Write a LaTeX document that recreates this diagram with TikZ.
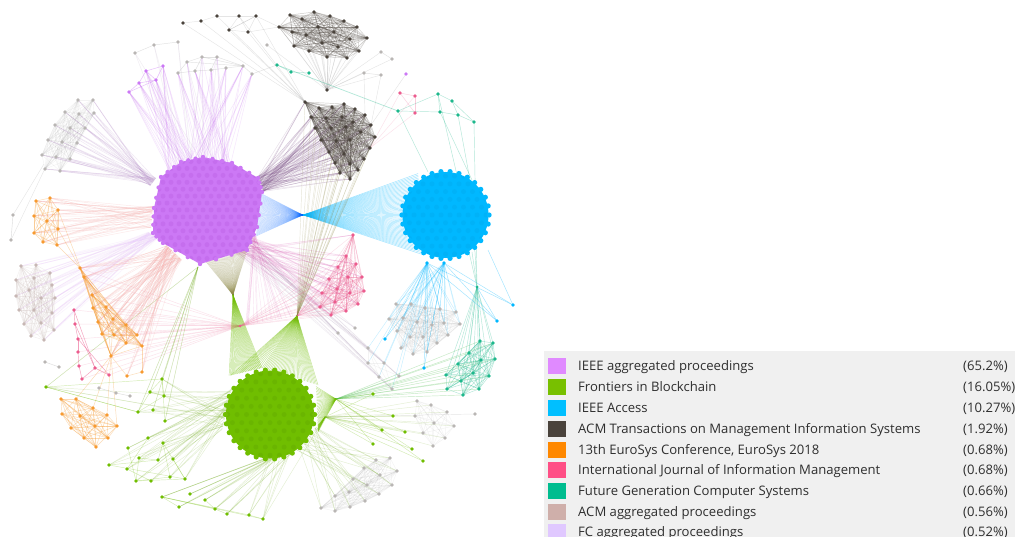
\documentclass[tikz,border=0pt]{standalone}
\usepackage{fontspec}
\setmainfont{Open Sans}
\usetikzlibrary{calc}
\definecolor{cPur}{HTML}{CC78F5}
\definecolor{cPurD}{HTML}{BC62E6}
\definecolor{cGrn}{HTML}{70BE00}
\definecolor{cGrnD}{HTML}{66B000}
\definecolor{cBlu}{HTML}{00B8FF}
\definecolor{cBluD}{HTML}{00ABF0}
\definecolor{cDark}{HTML}{4A433C}
\definecolor{cOra}{HTML}{F79A30}
\definecolor{cPnk}{HTML}{EC5C8E}
\definecolor{cTea}{HTML}{1DB88C}
\definecolor{cGry}{HTML}{B9B6B4}
\definecolor{cPkG}{HTML}{C7B7B4}
\definecolor{cLgd}{HTML}{F0F0F0}
\tikzset{
  lnk/.style={line width=.45pt,draw=#1},
  lgray/.style={lnk=black!45,draw opacity=.10},
  lpkgray/.style={lnk=cPkG,draw opacity=.22},
  ldark/.style={lnk=cDark,draw opacity=.28},
  lora/.style={lnk=cOra,draw opacity=.36},
  lpnk/.style={lnk=cPnk,draw opacity=.30},
  ltea/.style={lnk=cTea,draw opacity=.34},
  lgrnl/.style={lnk=cGrn,draw opacity=.30},
  fpur/.style={lnk=cPur,draw opacity=.20},
  fpgr/.style={lnk=cPur!55!gray,draw opacity=.18},
  fmix/.style={lnk=cPur!45!cDark,draw opacity=.20},
  fsal/.style={lnk=cOra!35!cPnk!55!white,draw opacity=.28},
  flav/.style={lnk=cPur!45!white,draw opacity=.22},
  fblu/.style={lnk=cBlu,draw opacity=.38},
  fbpu/.style={lnk=blue!45!cBlu,draw opacity=.26},
  fpkp/.style={lnk=cPnk!55!cPur,draw opacity=.17},
  fpkl/.style={lnk=cPnk,draw opacity=.18},
  foli/.style={lnk=olive!50!gray,draw opacity=.36},
  folt/.style={lnk=olive!50!gray,draw opacity=.22},
  fgrn/.style={lnk=cGrn,draw opacity=.42},
  fgry/.style={lnk=gray,draw opacity=.20},
  fsoft/.style={lnk=gray!70!cPur,draw opacity=.14},
  fgrg/.style={lnk=cGrn!75!gray,draw opacity=.20},
  fblg/.style={lnk=cBlu,draw opacity=.22},
  fgtl/.style={lnk=cGrn!50!cTea,draw opacity=.32},
}
\newcommand\ptset[2]{\foreach \a/\b [count=\i] in {#2}{\coordinate (#1-\i) at (\a,\b);\expandafter\xdef\csname N#1\endcsname{\i}}}
\newcommand\mesh[3]{\edef\nn{\csname N#1\endcsname}\foreach \i in {1,...,\nn}{\foreach \j in {1,...,\nn}{\ifnum\i<\j \pgfmathrandominteger{\rr}{0}{99}\ifnum\rr<#3 \draw[#2](#1-\i)--(#1-\j);\fi\fi}}}
\newcommand\fanP[3]{\edef\nn{\csname N#1\endcsname}\foreach \i in {1,...,\nn}{\draw[#3](#1-\i)--(#2);}}
\newcommand\fanS[5]{\edef\nn{\csname N#1\endcsname}\foreach \i in {1,...,\nn}{\foreach \k in {1,...,#5}{\pgfmathsetmacro{\tta}{rnd}\draw[#4](#1-\i)--($(#2)!\tta!(#3)$);}}}
\newcommand\fanQ[6]{\foreach \k in {1,...,#5}{\pgfmathsetmacro{\tta}{\k/#5}\pgfmathsetmacro{\ttb}{rnd}\draw[#6]($(#1)!\tta!(#2)$)--($(#3)!\ttb!(#4)$);}}
\newcommand\ptdraw[3][1.9]{\edef\nn{\csname N#2\endcsname}\foreach \i in {1,...,\nn}{\fill[#3](#2-\i)circle(#1);}}
\newcommand\chain[3]{\foreach \a/\b in {#3}{\draw[#2](#1-\a)--(#1-\b);}}
\newcommand\hexin[4]{%
  \foreach \r in {0,...,18}{\foreach \c in {0,...,18}{%
    \pgfmathsetmacro{\xx}{#1-9*#3+\c*#3+mod(\r,2)*#3/2}%
    \pgfmathsetmacro{\yy}{#2-9*#3*.866+\r*#3*.866}%
    \fill[#4](\xx,\yy)circle(2.5);}}}
\begin{document}
\begin{tikzpicture}[x=1pt,y=-1pt]
\useasboundingbox (0,0) rectangle (1015,537);
\clip (0,0) rectangle (1015,537);
\pgfmathsetseed{4242}
\fill[white](0,0)rectangle(1015,537);
% ---------- named points
\ptset{GA}{290/15,314/12,330/16,344/21,357/27,302/19,318/27,334/32,279/27,292/32,306/35,322/43,350/39,367/38,294/46,309/51,327/57,338/47,347/58,359/51}
\ptset{GB}{305/102,332/107,344/104,355/109,365/115,319/108,326/118,342/117,353/122,371/125,311/117,315/128,331/128,346/127,361/132,375/137,321/140,336/141,350/140,370/148,329/152,344/154,364/159,335/163,350/164,358/170,340/173,350/179}
\ptset{TC}{183/23,201/21,217/16,239/16,256/16,229/30,248/32}
\ptset{GT}{135/53,154/45,178/42}
\ptset{RA}{187/62,202/57,217/57}
\ptset{RB}{178/73,195/71,211/70,226/68,243/66,252/74}
\ptset{PU}{129/92,139/83,146/71,156/80,163/66}
\ptset{UL}{78/100,93/100,65/112,79/114,94/113,55/125,70/128,85/128,48/140,62/142,77/143,42/155,56/157,70/159,45/169,60/171}
\ptset{OU}{36/201,50/198,58/210,34/216,47/221,58/229,34/233,43/242,57/245}
\ptset{OL}{80/268,84/277,92/295,93/308,106/307,113/319,98/322,126/325,102/334,114/335,137/335,126/343,142/346,111/356}
\ptset{OE}{127/376,142/372}
\ptset{PC}{74/310,75/324,78/339,78/352,79/366,82/379,95/368,109/375}
\ptset{PG}{21/266,36/265,50/273,16/280,34/278,52/285,29/290,16/296,41/298,55/298,19/310,34/310,52/313,24/324,41/323,31/336,44/340,54/330}
\ptset{XA}{13/215,11/240}
\ptset{XB}{45/362,59/367}
\ptset{XC}{99/388,116/393,130/396}
\ptset{OD}{61/399,76/399,93/408,62/414,80/416,107/415,71/428,95/426,117/426,84/438,108/438,96/447}
\ptset{GL}{46/387,162/379,150/392,164/396,138/412,153/410,165/421}
\ptset{GM}{148/438,163/443,128/448,139/458,158/460,173/459,127/469,109/465,136/481,151/481,170/477,185/479}
\ptset{GN}{190/494,162/497,179/507,205/500,215/509,227/514,249/515,263/519}
\ptset{PK}{353/235,346/256,338/267,356/264,329/279,348/277,362/277,337/289,350/293,364/291,322/293,335/302,358/304,320/307,331/315,346/311}
\ptset{XD}{338/333,355/328}
\ptset{GG}{368/348,368/363,384/363,379/377,399/376,392/389}
\ptset{GC}{396/304,411/304,425/308,440/309,456/312,389/319,403/318,417/322,432/325,444/323,460/324,397/331,410/337,423/337,437/343,448/335,401/348,413/354,427/352}
\ptset{BN}{385/339,424/368,497/321,513/305}
\ptset{TM}{480/341,493/343,469/353,481/360,495/359,458/364,473/373,489/376,446/375,461/381,447/389,463/395,479/389}
\ptset{GR}{373/394,393/416,382/430,373/444,405/432,412/449,423/461}
\ptset{GS}{417/401,431/405,447/412,415/416,434/423,454/426,423/433,445/438,433/446}
\ptset{XE}{475/414}
\ptset{GW}{390/458,376/460,364/468,397/471,380/475,353/479,367/485,392/485,335/496,349/492,379/494,365/501,321/508,335/511,350/507}
\ptset{TU}{277/65,291/72,309/73,398/111,438/94,452/101,440/112,458/115,474/122}
\ptset{PR}{400/93,415/96,415/113}
\ptset{XF}{267/45,381/52,392/59,364/73,381/75}
\coordinate (PV) at (406,74);
% hubs
\coordinate (hDark) at (327,90);
\coordinate (hBlue) at (303,215);
\coordinate (hOli) at (233,295);
\coordinate (hGrn) at (297,316);
\coordinate (hPnk) at (240,326);
\coordinate (hGr2) at (336,399);
\coordinate (hGr3) at (325,417);
\coordinate (hTea) at (477,287);
\coordinate (hBl1) at (427,263);
\coordinate (hBl2) at (444,263);
\coordinate (hLow) at (198,267);
% segments on the blobs
\coordinate (pa) at (168,172);\coordinate (pb) at (195,158);
\coordinate (pc) at (190,158);\coordinate (pd) at (232,165);
\coordinate (pe) at (156,178);\coordinate (pf) at (150,186);
\coordinate (pg) at (258,176);\coordinate (ph) at (263,192);
\coordinate (pi) at (260,192);\coordinate (pj) at (256,236);
\coordinate (pk) at (153,206);\coordinate (pl) at (151,228);
\coordinate (pm) at (148,232);\coordinate (pn) at (158,238);
\coordinate (po) at (166,245);\coordinate (pp) at (182,260);
\coordinate (pq) at (252,237);\coordinate (pr) at (236,254);
\coordinate (ps) at (205,262);\coordinate (pt) at (247,250);
\coordinate (ba) at (418,172);\coordinate (bb) at (424,255);
\coordinate (ga) at (228,376);\coordinate (gb) at (262,368);
\coordinate (gc) at (262,368);\coordinate (gd) at (318,385);
\coordinate (ge) at (316,385);\coordinate (gf) at (318,432);
\coordinate (gg) at (318,425);\coordinate (gh) at (295,450);
\coordinate (gi) at (300,445);\coordinate (gj) at (262,460);
\coordinate (gk) at (232,388);\coordinate (gl) at (222,430);
\coordinate (gm) at (225,432);\coordinate (gn) at (258,458);
% ---------- faint long lines
\fanP{TC}{GB-1}{fgry}
\fanP{XF}{hDark}{fgry}
\fanP{PR}{GB-20}{fpkl}
\fanS{RA}{pc}{pd}{fsoft}{2}
\fanS{GT}{pa}{pd}{fsoft}{2}
\fanS{XA}{UL-15}{UL-12}{fgry}{1}
\fanP{PC}{hPnk}{fpkl}
\fanP{OL}{hPnk}{fpkl}
\fanS{GG}{pq}{pr}{fsoft}{3}
\fanS{XD}{pq}{pr}{fsoft}{3}
\fanS{XE}{ge}{gf}{fgry}{1}
\fanS{GL}{hLow}{hLow}{fgrg}{2}
\fanP{GG}{hBl1}{fblg}
% ---------- coloured fans
\fanS{PU}{pa}{pb}{fpur}{9}
\fanS{RB}{pc}{pd}{fpur}{8}
\fanS{RA}{pc}{pd}{fpur}{3}
\fanS{UL}{pe}{pf}{fpgr}{3}
\fanS{GB}{pg}{ph}{fmix}{4}
\fanQ{pi}{pj}{hBlue}{hBlue}{45}{fbpu}
\fanQ{ba}{bb}{hBlue}{hBlue}{55}{fblu}
\fanQ{pq}{pj}{hGrn}{hPnk}{22}{fpkp}
\fanS{PK}{pq}{pr}{fpkp}{4}
\fanS{OU}{pk}{pl}{fsal}{5}
\fanS{PG}{pm}{pn}{flav}{3}
\fanS{OL}{po}{pp}{fsal}{6}
\fanS{OE}{po}{pp}{fsal}{4}
\fanQ{ps}{pt}{hOli}{hOli}{40}{foli}
\fanP{GB}{hGrn}{folt}
\fanQ{ga}{gb}{hOli}{hOli}{30}{fgrn}
\fanQ{gc}{gd}{hGrn}{hGrn}{38}{fgrn}
\fanQ{ga}{gb}{hGrn}{hGrn}{12}{fgrn}
\fanQ{ge}{gf}{hGr2}{hGr2}{30}{fgrn}
\fanQ{gf}{gg}{hGr3}{hGr3}{14}{fgrn}
\fanP{TM}{hGr2}{fgtl}
\fanP{GS}{hGr3}{fgrg}
\fanP{GR}{hGr3}{lgrnl}
\fanP{GR}{hGr2}{lgrnl}
\fanS{GW}{gg}{gh}{fgrg}{2}
\fanS{GN}{gi}{gj}{fgrg}{4}
\fanS{GM}{gk}{gl}{fgrg}{3}
\fanS{GL}{gk}{gl}{fgrg}{3}
\fanP{PK}{hPnk}{fpkl}
\fanP{PK}{hGrn}{fpkl}
\fanP{TM}{hTea}{ltea}
\fanP{GC}{hBl1}{fblg}
\fanP{GC}{hBl2}{fblg}
\fanP{BN}{hBl1}{fblu}
\fanP{BN}{hBl2}{fblu}
\fanP{GA}{hDark}{fgry}
\draw[ltea](hTea)--(472,252);\draw[ltea](hTea)--(475,252);\draw[ltea](hTea)--(469,252);
\draw[ltea](TU-5)--(475,252);\draw[ltea](TU-7)--(472,180);\draw[ltea](TU-6)--(TU-9);
\draw[ltea](TU-8)--(470,180);\draw[ltea](TU-9)--(hTea);\draw[ltea](TU-4)--(428,172);
\draw[ltea,line width=.7pt](TU-1)--(TU-4);
\draw[fgry](PV)--(GB-10);\draw[fgry](XF-4)--(GB-5);\draw[fgry](XF-5)--(GB-10);
\draw[fblu](BN-4)--(488,250);\draw[fblu](BN-3)--(hTea);
\draw[fgrg](GN-8)--(hGr3);
% ---------- small clusters
\mesh{GA}{ldark}{100}
\mesh{GB}{ldark}{100}
\mesh{UL}{lgray}{100}
\mesh{PG}{lpkgray}{90}
\mesh{OU}{lora}{100}
\mesh{OL}{lora}{85}
\mesh{OD}{lora}{90}
\mesh{PK}{lpnk}{85}
\mesh{GC}{lgray}{100}
\mesh{TM}{ltea}{90}
\mesh{GS}{lgray}{100}
\mesh{GW}{lgray}{100}
\mesh{GG}{lgray}{60}
\mesh{GM}{lgrnl}{28}
\mesh{GL}{lgrnl}{40}
\mesh{GN}{lgrnl}{25}
\chain{TC}{fgry}{1/2,2/3,3/4,4/5,4/6,5/6,4/7,5/7,6/7,5/6}
\draw[fgry](TC-5)--(GA-9);\draw[fgry](TC-7)--(GA-9);
\chain{GT}{lgray,draw opacity=.25}{1/2,2/3}
\chain{RA}{lgray,draw opacity=.25}{1/2,2/3}
\chain{RB}{lgray,draw opacity=.25}{1/2,2/3,3/4,4/5,5/6}
\foreach \a in {1,2,3}{\draw[lgray,draw opacity=.25](RA-\a)--(RB-\a);\draw[lgray,draw opacity=.25](RA-\a)--(RB-5);}
\draw[lgray,draw opacity=.25](RB-6)--(TU-1);
\chain{PU}{fpur,draw opacity=.5}{1/2,2/3,2/4,3/4,3/5,4/5,1/4}
\chain{XA}{lgray,draw opacity=.3}{1/2}
\chain{XB}{lgray,draw opacity=.3}{1/2}
\chain{XC}{lgray,draw opacity=.3}{1/2,2/3}
\chain{PC}{lpnk,draw opacity=.6}{1/2,2/3,3/4,4/5,5/6,6/7,7/8,1/7,2/7,3/8}
\chain{OE}{lora}{1/2}
\draw[lora](OL-13)--(OE-2);\draw[lora](OL-14)--(OE-1);\draw[lora](OL-1)--(OU-6);\draw[lora](OL-1)--(OU-9);\draw[lora](OL-2)--(OU-3);\draw[lora](OL-14)--(OD-9);\draw[lora](OL-14)--(OD-3);\draw[lora](OL-14)--(OD-2);\draw[lora](OL-14)--(OD-6);
\chain{TU}{ltea}{1/2,2/3,5/6,5/7,6/8,7/8,8/9,4/7,4/5}
\chain{PR}{lpnk}{1/2,2/3,1/3}
\chain{XF}{lgray,draw opacity=.25}{2/3,4/5}
\draw[lgrnl](GL-1)--(GL-5);
% ---------- dots
\ptdraw{GA}{cDark}\ptdraw{GB}{cDark}\ptdraw{TC}{cDark}
\fill[cDark](hDark)circle(1.9);
\ptdraw{GT}{cGry}\ptdraw{RA}{cGry}\ptdraw{RB}{cGry}
\ptdraw{PU}{cPur}\ptdraw{UL}{cGry}\ptdraw{OU}{cOra}\ptdraw{OL}{cOra}\ptdraw{OE}{cOra}\ptdraw{OD}{cOra}
\ptdraw{PC}{cPnk}\ptdraw{PG}{cPkG}\ptdraw{XA}{cGry}\ptdraw{XB}{cGry}\ptdraw{XC}{cGry}
\ptdraw{GL}{cGrn}\ptdraw{GM}{cGrn}\ptdraw{GN}{cGrn}\ptdraw{GR}{cGrn}
\ptdraw{PK}{cPnk}\ptdraw{XD}{cGry}\ptdraw{GG}{cGry}\ptdraw{GC}{cGry}\ptdraw{BN}{cBlu}
\ptdraw{TM}{cTea}\ptdraw{GS}{cGry}\ptdraw{XE}{cGry}\ptdraw{GW}{cGry}\ptdraw{TU}{cTea}\ptdraw{PR}{cPnk}\ptdraw{XF}{cGry}
\fill[cPur](PV)circle(1.9);
\fill[cPnk](hPnk)circle(1.5);
\fill[cTea](hTea)circle(1.5);
\fill[cBlu](hBl1)circle(1.9);\fill[cBlu](hBl2)circle(1.9);
% ---------- purple blob
\coordinate (q1) at (203,157);\coordinate (q2) at (232,163);\coordinate (q3) at (258,178);\coordinate (q4) at (262,192);
\coordinate (q5) at (257,227);\coordinate (q6) at (247,250);\coordinate (q7) at (200,264);\coordinate (q8) at (163,243);
\coordinate (q9) at (153,233);\coordinate (q10) at (154,208);\coordinate (q11) at (161,177);\coordinate (q12) at (181,162);
\fill[cPur](q1)--(q2)--(q3)--(q4)--(q5)--(q6)--(q7)--(q8)--(q9)--(q10)--(q11)--(q12)--cycle;
\begin{scope}
\clip(q1)--(q2)--(q3)--(q4)--(q5)--(q6)--(q7)--(q8)--(q9)--(q10)--(q11)--(q12)--cycle;
\hexin{207}{210}{8}{cPurD,opacity=.42}
\end{scope}
\foreach \a/\b in {q1/q2,q2/q3,q3/q4,q4/q5,q5/q6,q6/q7,q7/q8,q8/q9,q9/q10,q10/q11,q11/q12,q12/q1}{\foreach \s in {0,.33,.66}{\fill[cPur]($(\a)!\s!(\b)$)circle(2.2);}}
% ---------- blue blob
\fill[cBlu](445.5,215)circle(43);
\begin{scope}\clip(445.5,215)circle(42);\hexin{445.5}{215}{9}{cBluD,opacity=.45}\end{scope}
\foreach \k in {0,12,...,348}{\fill[cBlu]($(445.5,215)+(\k:43.6)$)circle(2.6);}
% ---------- green blob
\fill[cGrn](270,414.5)circle(44);
\begin{scope}\clip(270,414.5)circle(43);\hexin{270}{414.5}{9.4}{cGrnD,opacity=.6}\end{scope}
\foreach \k in {0,12,...,348}{\fill[cGrn]($(270,414.5)+(\k:44.6)$)circle(2.6);}
% ---------- legend
\fill[cLgd](544,351)rectangle(1015,537);
\foreach \y/\c/\t/\p in {
 366/E08AFF/IEEE aggregated proceedings/(65.2\%),
 387/78C000/Frontiers in Blockchain/(16.05\%),
 408/00BFFF/IEEE Access/(10.27\%),
 428.5/4A433C/ACM Transactions on Management Information Systems/(1.92\%),
 449.5/FF8800/13th EuroSys Conference{,} EuroSys 2018/(0.68\%),
 470/FF4F86/International Journal of Information Management/(0.68\%),
 491/00BD8F/Future Generation Computer Systems/(0.66\%),
 511.5/CFAFAA/ACM aggregated proceedings/(0.56\%),
 532/E0C8FF/FC aggregated proceedings/(0.52\%)}{
 \definecolor{swc}{HTML}{\c}
 \fill[swc](548,\y-8)rectangle(566,\y+8);
 \node[anchor=base west,inner sep=0,font=\fontsize{13.1}{15}\selectfont,text=black!82] at (578,\y+4.5) {\t};
 \node[anchor=base west,inner sep=0,font=\fontsize{13.1}{15}\selectfont,text=black!82] at (963,\y+4.5) {\p};
}
\end{tikzpicture}
\end{document}
